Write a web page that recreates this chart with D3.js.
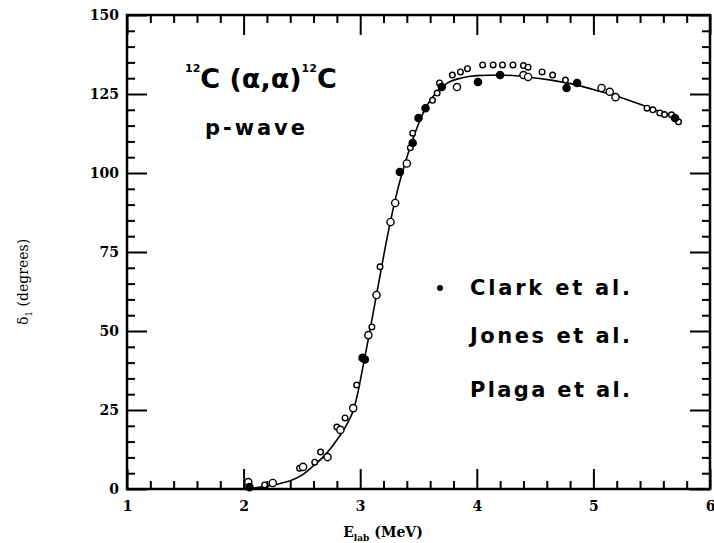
<!DOCTYPE html>
<html>
<head>
<meta charset="utf-8">
<script src="https://cdn.jsdelivr.net/npm/d3@7"></script>
<style>
  body { margin: 0; background: #fff; }
  svg { display: block; }
</style>
</head>
<body>
<svg id="chart" width="714" height="543"></svg>
<script>
// p-wave phase shift data
/////////////////////////////////

var xTicks = [1, 2, 3, 4, 5, 6];
var yTicks = [0, 25, 50, 75, 100, 125, 150];

// fitted curve
var curveE = [2.0, 2.1, 2.2, 2.3, 2.4, 2.5, 2.6, 2.7, 2.8, 2.9, 2.94, 2.98, 3.02, 3.07, 3.12, 3.17, 3.22, 3.27,
    3.32, 3.38, 3.44, 3.50, 3.56, 3.64, 3.75, 3.86, 4.0, 4.2, 4.43, 4.65, 4.86, 5.06, 5.23, 5.46, 5.73];
var curveD = [0.0, 0.4, 0.9, 1.6, 2.6, 4.4, 7.4, 10.8, 15.5, 21.5, 24.8, 30.5, 38, 47.5, 57.5, 67.5, 77.5, 86.5,
    94.5, 102.5, 109.5, 115.5, 120.5, 125, 128.5, 130, 130.8, 131, 130.4, 129.3, 127.8, 125.8, 124, 120.9, 117.2];

// Clark et al. (filled)
var clarkE = [2.05, 3.02, 3.04, 3.34, 3.45, 3.50, 3.56, 3.70, 4.01, 4.20, 4.77, 4.86, 5.70];
var clarkD = [0.6, 41.5, 41.0, 100.3, 109.5, 117.4, 120.5, 127.2, 128.8, 131.0, 126.9, 128.5, 117.4];

// Jones et al. (open)
var jonesE = [2.04, 2.25, 2.51, 2.72, 2.83, 2.94, 3.07, 3.14, 3.26, 3.30, 3.40, 3.83, 4.40, 4.44, 5.07, 5.14, 5.19];
var jonesD = [2.2, 1.9, 7.0, 10.1, 18.7, 25.6, 48.7, 61.4, 84.5, 90.5, 103.0, 127.2, 131.0, 130.4, 126.9, 125.7, 124.0];

// Plaga et al. (small open)
var plagaE = [2.18, 2.48, 2.61, 2.66, 2.80, 2.87, 2.97, 3.10, 3.17, 3.43, 3.45, 3.62, 3.66, 3.68, 3.79, 3.86,
    3.92, 4.05, 4.14, 4.22, 4.31, 4.40, 4.44, 4.56, 4.65, 4.76, 5.46, 5.51, 5.57, 5.61, 5.67, 5.73];
var plagaD = [1.3, 6.6, 8.5, 11.7, 19.6, 22.5, 32.9, 51.3, 70.3, 108.0, 112.6, 123.0, 125.3, 128.5, 131.0, 132.0,
    133.0, 134.2, 134.2, 134.2, 134.2, 134.0, 133.5, 132.0, 131.0, 129.4, 120.5, 120.0, 119.0, 118.5, 118.4, 116.2];

var legendLabels = ['Clark et al.', 'Jones et al.', 'Plaga et al.'];

var margin = { top: 15, right: 4, bottom: 54, left: 127 },
    W = 714, H = 543,
    width = W - margin.left - margin.right,
    height = H - margin.top - margin.bottom;

var svg = d3.select('#chart');
var g = svg.append('g').attr('transform', 'translate(' + margin.left + ',' + margin.top + ')');

var x = d3.scaleLinear().domain([1, 6]).range([0, width]);
var y = d3.scaleLinear().domain([0, 150]).range([height, 0]);

var xMinor = d3.range(1, 6.001, 0.2).filter(function (v) { return Math.abs(v - Math.round(v)) > 0.01; });
var yMinor = d3.range(0, 151, 5).filter(function (v) { return v % 25 !== 0; });

function styleAxis(sel) {
    sel.select('.domain').remove();
    sel.selectAll('line').attr('stroke', '#000').attr('stroke-width', 2);
    sel.selectAll('text').attr('font-family', 'DejaVu Serif').attr('font-weight', 'bold')
        .attr('font-size', 14).attr('fill', '#000');
}

// major ticks, pointing inward
g.append('g').attr('transform', 'translate(0,' + height + ')')
    .call(d3.axisBottom(x).tickValues(xTicks).tickSize(-20).tickSizeOuter(0).tickPadding(12).tickFormat(d3.format('d')))
    .call(styleAxis);
g.append('g')
    .call(d3.axisTop(x).tickValues(xTicks).tickSize(-20).tickSizeOuter(0).tickFormat(''))
    .call(styleAxis);
g.append('g')
    .call(d3.axisLeft(y).tickValues(yTicks).tickSize(-20).tickSizeOuter(0).tickPadding(8).tickFormat(d3.format('d')))
    .call(styleAxis);
g.append('g').attr('transform', 'translate(' + width + ',0)')
    .call(d3.axisRight(y).tickValues(yTicks).tickSize(-20).tickSizeOuter(0).tickFormat(''))
    .call(styleAxis);

// minor ticks
g.append('g').attr('transform', 'translate(0,' + height + ')')
    .call(d3.axisBottom(x).tickValues(xMinor).tickSize(-8).tickSizeOuter(0).tickFormat('')).call(styleAxis);
g.append('g')
    .call(d3.axisTop(x).tickValues(xMinor).tickSize(-8).tickSizeOuter(0).tickFormat('')).call(styleAxis);
g.append('g')
    .call(d3.axisLeft(y).tickValues(yMinor).tickSize(-8).tickSizeOuter(0).tickFormat('')).call(styleAxis);
g.append('g').attr('transform', 'translate(' + width + ',0)')
    .call(d3.axisRight(y).tickValues(yMinor).tickSize(-8).tickSizeOuter(0).tickFormat('')).call(styleAxis);

// frame
g.append('rect').attr('width', width).attr('height', height)
    .attr('fill', 'none').attr('stroke', '#000').attr('stroke-width', 2.5);

// fitted curve
var line = d3.line().x(function (d) { return x(d[0]); }).y(function (d) { return y(d[1]); })
    .curve(d3.curveMonotoneX);
g.append('path').datum(d3.zip(curveE, curveD)).attr('d', line)
    .attr('fill', 'none').attr('stroke', '#000').attr('stroke-width', 1.6);

// data points
function drawPoints(es, ds, r, filled) {
    g.append('g').selectAll('circle').data(d3.zip(es, ds)).enter().append('circle')
        .attr('cx', function (d) { return x(d[0]); })
        .attr('cy', function (d) { return y(d[1]); })
        .attr('r', r)
        .attr('fill', filled ? '#000' : '#fff')
        .attr('stroke', '#000').attr('stroke-width', 1.4);
}
drawPoints(plagaE, plagaD, 2.8, false);
drawPoints(jonesE, jonesD, 3.6, false);
drawPoints(clarkE, clarkD, 3.6, true);

// handwritten annotations
var hand = { family: 'DejaVu Sans', weight: 'bold' };
var t1 = svg.append('text').attr('x', 185).attr('y', 88)
    .attr('font-family', hand.family).attr('font-weight', hand.weight).attr('font-size', 27).attr('fill', '#000');
t1.append('tspan').attr('font-size', 11).attr('dy', -16).text('12');
t1.append('tspan').attr('dy', 16).text('C (α,α)');
t1.append('tspan').attr('font-size', 11).attr('dy', -16).text('12');
t1.append('tspan').attr('dy', 16).text('C');

svg.append('text').attr('x', 205).attr('y', 135)
    .attr('font-family', hand.family).attr('font-weight', hand.weight).attr('font-size', 21)
    .attr('textLength', 100).attr('fill', '#000').text('p-wave');

// legend
var legY = [295, 343, 397];
svg.append('circle').attr('cx', 440).attr('cy', 288).attr('r', 3).attr('fill', '#000');
svg.selectAll('text.leg').data(legendLabels).enter().append('text').attr('class', 'leg')
    .attr('x', 470).attr('y', function (d, i) { return legY[i]; })
    .attr('font-family', hand.family).attr('font-weight', hand.weight).attr('font-size', 21)
    .attr('textLength', 160).attr('fill', '#000')
    .text(function (d) { return d; });

// axis titles
var xt = svg.append('text').attr('x', 383).attr('y', 537).attr('text-anchor', 'middle')
    .attr('font-family', 'DejaVu Serif').attr('font-weight', 'bold').attr('font-size', 14).attr('fill', '#000');
xt.append('tspan').text('E');
xt.append('tspan').attr('font-size', 9).attr('dy', 4).text('lab');
xt.append('tspan').attr('dy', -4).text(' (MeV)');

var yt = svg.append('text').attr('transform', 'translate(28,282) rotate(-90)').attr('text-anchor', 'middle')
    .attr('font-family', 'DejaVu Serif').attr('font-size', 14).attr('fill', '#000');
yt.append('tspan').text('δ');
yt.append('tspan').attr('font-size', 9).attr('dy', 4).text('1');
yt.append('tspan').attr('dy', -4).text(' (degrees)');
</script>
</body>
</html>
